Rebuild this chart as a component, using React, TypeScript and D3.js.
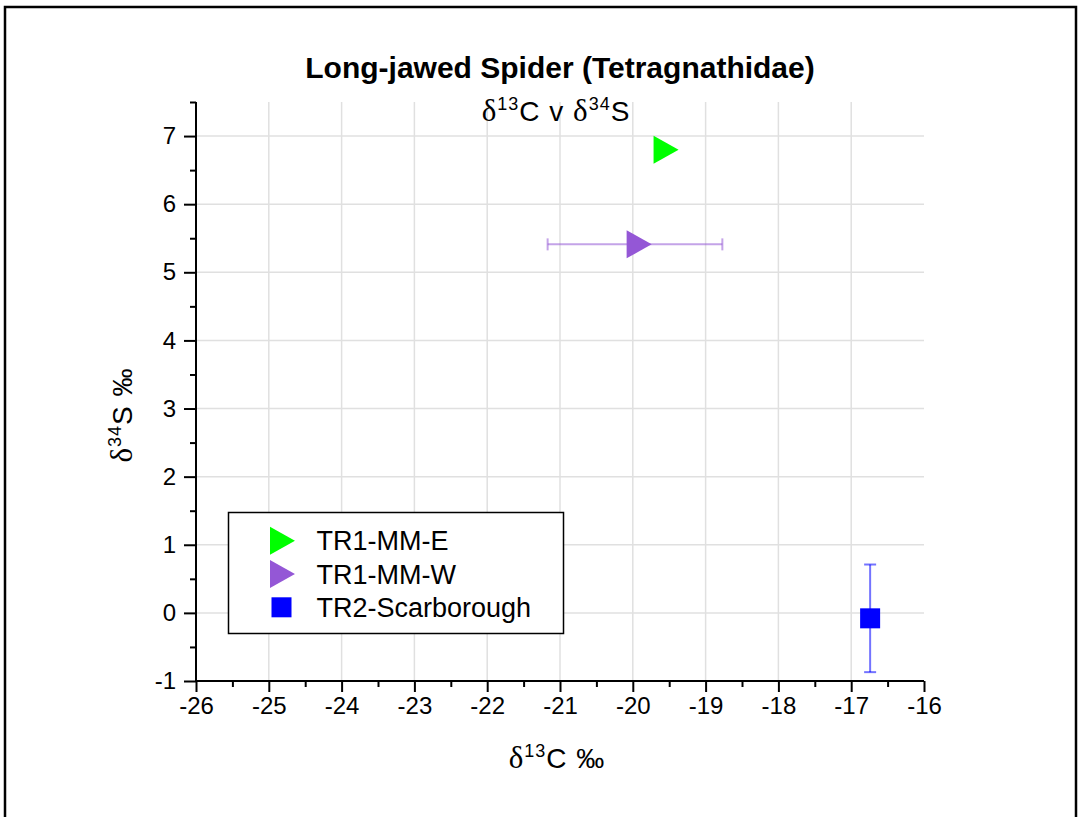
import React, { useEffect, useRef } from 'react';
import * as d3 from 'd3';

// series
const seriesNames = ['TR1-MM-E', 'TR1-MM-W', 'TR2-Scarborough'];
const seriesColors = ['#00ff00', '#9457d6', '#0000ff'];
const seriesShapes = ['triangle', 'triangle', 'square'];
const carbonValues = [-19.6, -19.97, -16.74];
const sulfurValues = [6.8, 5.41, -0.08];
const carbonErrors = [0, 1.2, 0];
const sulfurErrors = [0, 0, 0.79];

const xTicks = [-26, -25, -24, -23, -22, -21, -20, -19, -18, -17, -16];
const yTicks = [-1, 0, 1, 2, 3, 4, 5, 6, 7];

const W = 1079;
const H = 817;
const sans = 'Arial, "Liberation Sans", sans-serif';
const serif = '"Times New Roman", "Liberation Serif", serif';

const App: React.FC = () => {
  const svgRef = useRef<SVGSVGElement>(null);

  useEffect(() => {
    if (!svgRef.current) return;
    const svg = d3.select(svgRef.current);
    svg.selectAll('*').remove();

    const left = 196, right = 924, top = 102, bottom = 681;
    const x = d3.scaleLinear().domain([-26, -16]).range([left, right]);
    const y = d3.scaleLinear().domain([-1, 7.5]).range([bottom, top]);

    // outer frame
    svg.append('rect')
      .attr('x', 5).attr('y', 7).attr('width', 1071).attr('height', 840)
      .attr('fill', 'white').attr('stroke', '#000').attr('stroke-width', 2.5);

    // grid
    const grid = svg.append('g').attr('stroke', '#e0e0e0').attr('stroke-width', 1.5);
    xTicks.slice(1, -1).forEach(t => {
      grid.append('line').attr('x1', x(t)).attr('x2', x(t)).attr('y1', top).attr('y2', bottom);
    });
    yTicks.slice(1).forEach(t => {
      grid.append('line').attr('x1', left).attr('x2', right).attr('y1', y(t)).attr('y2', y(t));
    });

    // axes
    const xAxis = d3.axisBottom(x).tickValues(xTicks).tickSize(11).tickPadding(5)
      .tickFormat(d => String(d));
    const gx = svg.append('g').attr('transform', `translate(0,${bottom})`).call(xAxis);
    const xMinor = d3.axisBottom(x).tickValues(d3.range(-25.5, -16, 1)).tickSize(6).tickFormat(() => '');
    svg.append('g').attr('transform', `translate(0,${bottom})`).call(xMinor).select('.domain').remove();

    const yAxis = d3.axisLeft(y).tickValues(yTicks).tickSize(12).tickPadding(8)
      .tickFormat(d => String(d));
    const gy = svg.append('g').attr('transform', `translate(${left},0)`).call(yAxis);
    const yMinor = d3.axisLeft(y).tickValues(d3.range(-0.5, 7.6, 1)).tickSize(6).tickFormat(() => '');
    svg.append('g').attr('transform', `translate(${left},0)`).call(yMinor).select('.domain').remove();

    [gx, gy].forEach(g => {
      g.select('.domain').attr('stroke', '#000').attr('stroke-width', 2);
      g.selectAll('.tick text').attr('font-family', sans).attr('font-size', 24).attr('fill', '#000');
    });
    svg.selectAll('g .tick line').attr('stroke', '#000').attr('stroke-width', 2);
    gx.select('.domain').attr('d', `M${left},0H${right}`);
    gy.select('.domain').attr('d', `M0,${top}V${bottom}`);

    // marker drawing
    const drawMarker = (g: any, shape: string, cx: number, cy: number, color: string) => {
      if (shape === 'triangle') {
        const a = 8.33, b = 16.67, h = 14;
        g.append('path')
          .attr('d', `M${cx - a},${cy - h}L${cx + b},${cy}L${cx - a},${cy + h}Z`)
          .attr('fill', color);
      } else {
        g.append('rect').attr('x', cx - 10).attr('y', cy - 10)
          .attr('width', 20).attr('height', 20).attr('fill', color);
      }
    };

    // error bars + points
    const pts = svg.append('g');
    seriesNames.forEach((_, i) => {
      const cx = x(carbonValues[i]);
      const cy = y(sulfurValues[i]);
      const col = seriesColors[i];
      const eb = pts.append('g').attr('stroke', col).attr('stroke-opacity', 0.55).attr('stroke-width', 2);
      if (carbonErrors[i] > 0) {
        const x0 = x(carbonValues[i] - carbonErrors[i]);
        const x1 = x(carbonValues[i] + carbonErrors[i]);
        eb.append('line').attr('x1', x0).attr('x2', x1).attr('y1', cy).attr('y2', cy);
        [x0, x1].forEach(xx => eb.append('line').attr('x1', xx).attr('x2', xx).attr('y1', cy - 6).attr('y2', cy + 6));
      }
      if (sulfurErrors[i] > 0) {
        const y0 = y(sulfurValues[i] - sulfurErrors[i]);
        const y1 = y(sulfurValues[i] + sulfurErrors[i]);
        eb.append('line').attr('x1', cx).attr('x2', cx).attr('y1', y0).attr('y2', y1);
        [y0, y1].forEach(yy => eb.append('line').attr('x1', cx - 6).attr('x2', cx + 6).attr('y1', yy).attr('y2', yy));
      }
      drawMarker(pts, seriesShapes[i], cx, cy, col);
    });

    // legend
    const lg = svg.append('g');
    lg.append('rect').attr('x', 228.5).attr('y', 512.5).attr('width', 335).attr('height', 121)
      .attr('fill', 'white').attr('stroke', '#000').attr('stroke-width', 1.5);
    seriesNames.forEach((name, i) => {
      const ly = 540.7 + i * 33.3;
      drawMarker(lg, seriesShapes[i], seriesShapes[i] === 'triangle' ? 278.3 : 281.5, ly, seriesColors[i]);
      lg.append('text').attr('x', 316.5).attr('y', ly + 9.5)
        .attr('font-family', sans).attr('font-size', 27).attr('fill', '#000').text(name);
    });

    // titles
    const cxPlot = (left + right) / 2;
    svg.append('text').attr('x', cxPlot).attr('y', 78).attr('text-anchor', 'middle')
      .attr('font-family', sans).attr('font-size', 30).attr('font-weight', 'bold').text('Long-jawed Spider (Tetragnathidae)');

    const delta = (t: any, sup: string, rest: string) => {
      t.append('tspan').attr('font-family', serif).attr('font-size', 31).text('δ');
      t.append('tspan').attr('font-size', 18).attr('dy', -11).text(sup);
      t.append('tspan').attr('dy', 11).text(rest);
    };

    const sub = svg.append('text').attr('x', cxPlot - 4).attr('y', 121).attr('text-anchor', 'middle')
      .attr('font-family', sans).attr('font-size', 28).attr('letter-spacing', 1).attr('fill', '#000');
    delta(sub, '13', 'C v ');
    delta(sub, '34', 'S');

    const xl = svg.append('text').attr('x', 557).attr('y', 768).attr('text-anchor', 'middle')
      .attr('font-family', sans).attr('font-size', 28).attr('letter-spacing', 1).attr('fill', '#000');
    delta(xl, '13', 'C ‰');

    const yl = svg.append('text').attr('transform', `translate(132,415) rotate(-90)`).attr('text-anchor', 'middle')
      .attr('font-family', sans).attr('font-size', 28).attr('letter-spacing', 1).attr('fill', '#000');
    delta(yl, '34', 'S ‰');
  }, []);

  return (
    <svg ref={svgRef} width={W} height={H}
      style={{ position: 'absolute', left: 0, top: 0, background: 'white' }} />
  );
};

export default App;
